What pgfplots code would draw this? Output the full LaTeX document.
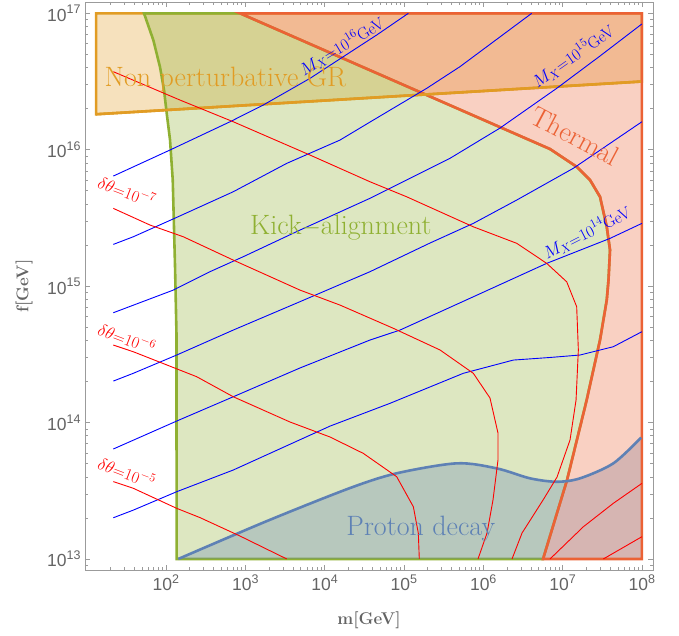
\documentclass[border=0pt]{standalone}
\usepackage{fontspec}
\usepackage{pgfplots}
\pgfplotsset{compat=1.18}
\newfontfamily\ticksf{Liberation Sans}
\definecolor{mBlue}{RGB}{94,129,181}
\definecolor{mOrange}{RGB}{225,156,36}
\definecolor{mGreen}{RGB}{143,176,50}
\definecolor{mRed}{RGB}{235,98,53}
\definecolor{frameGray}{RGB}{155,155,155}
\definecolor{labGray}{RGB}{100,100,100}
\newcommand\tl[1]{{\ticksf\fontsize{17.5}{17.5}\selectfont 10\raisebox{0.42em}{\fontsize{12.5}{12.5}\selectfont #1}}}
\newcommand\mysup[1]{\raisebox{0.45em}{\fontsize{12}{12}\selectfont #1}}
\newcommand\mx[1]{$M_{X}$=10\mysup{#1}GeV}
\newcommand\dt[1]{$\delta\theta$=10\mysup{$-$#1}}
\begin{document}
\begin{tikzpicture}
\begin{axis}[
  scale only axis, width=568pt, height=568pt,
  xmin=0.98, xmax=8.14, ymin=12.919, ymax=17.083,
  axis line style={frameGray, line width=0.8pt},
  tick style={frameGray, line width=0.6pt},
  tick align=inside,
  major tick length=5pt, minor tick length=3pt,
  xtick={2,3,4,5,6,7,8},
  xticklabels={\tl{2},\tl{3},\tl{4},\tl{5},\tl{6},\tl{7},\tl{8}},
  ytick={13,14,15,16,17},
  yticklabels={\tl{13},\tl{14},\tl{15},\tl{16},\tl{17}},
  minor xtick={1.301,1.477,1.602,1.699,1.778,1.845,1.903,1.954,
    2.301,2.477,2.602,2.699,2.778,2.845,2.903,2.954,
    3.301,3.477,3.602,3.699,3.778,3.845,3.903,3.954,
    4.301,4.477,4.602,4.699,4.778,4.845,4.903,4.954,
    5.301,5.477,5.602,5.699,5.778,5.845,5.903,5.954,
    6.301,6.477,6.602,6.699,6.778,6.845,6.903,6.954,
    7.301,7.477,7.602,7.699,7.778,7.845,7.903,7.954},
  minor ytick={12.954,
    13.301,13.477,13.602,13.699,13.778,13.845,13.903,13.954,
    14.301,14.477,14.602,14.699,14.778,14.845,14.903,14.954,
    15.301,15.477,15.602,15.699,15.778,15.845,15.903,15.954,
    16.301,16.477,16.602,16.699,16.778,16.845,16.903,16.954},
  ticklabel style={text=labGray},
  xticklabel style={yshift=-1pt},
  yticklabel style={xshift=-1pt},
  xlabel={m[GeV]}, ylabel={f[GeV]},
  label style={font=\bfseries\fontsize{17}{17}\selectfont, text=labGray},
  xlabel style={at={(axis description cs:0.5,-0.088)}, anchor=center},
  ylabel style={at={(axis description cs:-0.107,0.5)}, anchor=center},
]
% Non perturbative GR
\addplot[draw=mOrange, line width=2.6pt, fill=mOrange, fill opacity=0.3]
  coordinates {(1.12,17)(8,17)(8,16.50)(1.12,16.26)} --cycle;
% Kick-alignment
\addplot[draw=mGreen, line width=2.6pt, fill=mGreen, fill opacity=0.3]
  coordinates {(1.724,17)(1.841,16.804)(1.925,16.608)(1.976,16.438)(2.010,16.267)(2.052,16.071)(2.086,15.778)(2.115,15.142)(2.133,14.654)(2.135,13.0)
  (6.754,13.0)(7.056,13.578)(7.304,14.165)(7.472,14.605)(7.557,14.898)(7.579,15.045)(7.598,15.265)(7.557,15.435)(7.472,15.655)(7.346,15.778)(7.178,15.875)(6.842,16.005)(2.934,17)} --cycle;
% Proton decay fill
\addplot[draw=none, fill=mBlue, fill opacity=0.3]
  coordinates {(2.156,13.0)(3.274,13.278)(4.321,13.520)(4.909,13.628)(5.666,13.701)(6.170,13.664)(6.590,13.591)(6.926,13.566)(7.220,13.591)(7.640,13.701)(8.0,13.896)(8.0,13.0)} --cycle;
% Thermal
\addplot[draw=mRed, line width=2.6pt, fill=mRed, fill opacity=0.3]
  coordinates {(2.934,17)(6.842,16.005)(7.178,15.875)(7.346,15.778)(7.472,15.655)(7.557,15.435)(7.598,15.265)(7.579,15.045)(7.557,14.898)(7.472,14.605)(7.304,14.165)(7.056,13.578)(6.754,13.0)(8,13)(8,17)} --cycle;
% boundaries drawn on top
\addplot[mOrange, line width=2.6pt] coordinates {(1.12,16.26)(7.99,16.50)};
\addplot[mBlue, line width=2.6pt, smooth]
  coordinates {(2.156,13.0)(3.274,13.278)(4.321,13.520)(4.909,13.628)(5.666,13.701)(6.170,13.664)(6.590,13.591)(6.926,13.566)(7.220,13.591)(7.640,13.701)(7.99,13.890)};
% M_X contours
\addplot[blue, line width=0.9pt] coordinates {(1.337,15.807)(2.052,15.998)(2.808,16.205)(3.228,16.328)(3.816,16.523)(4.236,16.682)(4.657,16.841)(5.056,17.0)};
\addplot[blue, line width=0.9pt] coordinates {(1.337,15.306)(1.589,15.362)(2.136,15.504)(2.849,15.692)(3.523,15.900)(4.195,16.071)(4.573,16.203)(5.287,16.450)(5.707,16.609)(6.611,17.0)};
\addplot[blue, line width=0.9pt] coordinates {(1.337,14.805)(2.093,14.971)(2.556,15.106)(2.976,15.216)(3.690,15.411)(4.573,15.644)(5.581,15.937)(6.212,16.159)(6.926,16.450)(7.472,16.687)(8.0,16.922)};
\addplot[blue, line width=0.9pt] coordinates {(1.337,14.304)(1.589,14.361)(2.136,14.495)(2.849,14.678)(3.690,14.886)(4.573,15.106)(5.329,15.316)(5.875,15.460)(6.422,15.631)(7.136,15.864)(8.0,16.205)};
\addplot[blue, line width=0.9pt] coordinates {(1.337,13.806)(2.136,14.011)(2.849,14.189)(3.690,14.400)(4.573,14.605)(4.951,14.678)(5.875,14.922)(6.800,15.167)(7.598,15.350)(8.0,15.460)};
\addplot[blue, line width=0.9pt] coordinates {(1.337,13.302)(1.589,13.358)(2.136,13.493)(2.849,13.652)(4.069,13.974)(4.825,14.141)(5.749,14.361)(6.379,14.458)(6.842,14.477)(7.220,14.495)(7.640,14.556)(8.0,14.666)};
% delta theta contours
\addplot[red, line width=0.9pt] coordinates {(1.337,16.572)(2.178,16.364)(2.849,16.205)(3.816,15.961)(4.573,15.765)(5.035,15.655)(5.875,15.435)(6.422,15.314)(6.800,15.167)(7.052,15.032)(7.178,14.849)(7.199,14.532)(7.170,14.165)(7.094,13.872)(6.930,13.600)(6.754,13.432)(6.489,13.190)(6.363,13.0)};
\addplot[red, line width=0.9pt] coordinates {(1.337,15.570)(1.799,15.448)(2.219,15.362)(2.849,15.191)(3.690,14.971)(4.195,14.861)(4.866,14.691)(5.455,14.532)(5.875,14.361)(6.085,14.180)(6.186,13.923)(6.186,13.725)(6.123,13.432)(6.048,13.190)(5.934,13.0)};
\addplot[red, line width=0.9pt] coordinates {(1.337,14.568)(1.589,14.519)(2.388,14.336)(2.849,14.189)(3.564,14.004)(4.069,13.894)(4.488,13.774)(4.909,13.603)(5.119,13.383)(5.182,13.188)(5.194,13.0)};
\addplot[red, line width=0.9pt] coordinates {(1.337,13.567)(1.589,13.518)(2.136,13.371)(2.430,13.303)(2.934,13.168)(3.523,13.0)};
\addplot[red, line width=0.9pt] coordinates {(6.842,13.0)(7.262,13.236)(7.640,13.408)(8.0,13.554)};
\addplot[red, line width=0.9pt] coordinates {(7.514,13.0)(8.0,13.163)};
% region labels
\node[text=mOrange, font=\fontsize{28}{32}\selectfont, anchor=base] at (axis cs:2.75,16.467) {Non perturbative GR};
\node[text=mGreen, font=\fontsize{28}{32}\selectfont, anchor=base] at (axis cs:4.205,15.380) {Kick$-$alignment};
\node[text=mBlue, font=\fontsize{28}{32}\selectfont, anchor=base] at (axis cs:5.213,13.175) {Proton decay};
\node[text=mRed, font=\fontsize{28}{32}\selectfont, rotate=-28] at (axis cs:7.157,16.100) {Thermal};
% contour labels
\node[text=blue, font=\fontsize{16.5}{18}\selectfont, rotate=31] at (axis cs:4.215,16.760) {\mx{16}};
\node[text=blue, font=\fontsize{16.5}{18}\selectfont, rotate=35] at (axis cs:7.132,16.687) {\mx{15}};
\node[text=blue, font=\fontsize{16.5}{18}\selectfont, rotate=27] at (axis cs:7.304,15.393) {\mx{14}};
\node[text=red, font=\fontsize{16.5}{18}\selectfont, rotate=-21] at (axis cs:1.506,15.699) {\dt{7}};
\node[text=red, font=\fontsize{16.5}{18}\selectfont, rotate=-21] at (axis cs:1.506,14.623) {\dt{6}};
\node[text=red, font=\fontsize{16.5}{18}\selectfont, rotate=-21] at (axis cs:1.506,13.637) {\dt{5}};
\end{axis}
\pgfresetboundingbox
\path ([shift={(-85pt,-65pt)}]current axis.south west) rectangle ++(679pt,635pt);
\end{tikzpicture}
\end{document}
